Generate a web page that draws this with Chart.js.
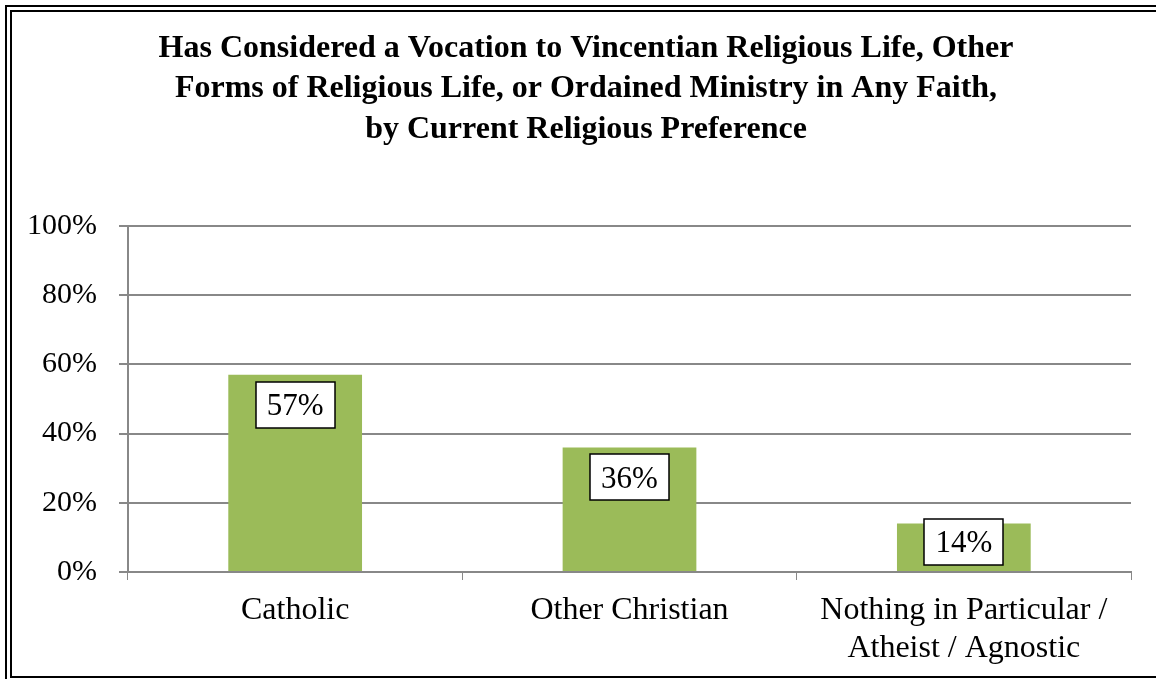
<!DOCTYPE html>
<html>
<head>
<meta charset="utf-8">
<script src="https://cdn.jsdelivr.net/npm/chart.js@4"></script>
<style>
  html, body { margin: 0; padding: 0; background: #fff; overflow: hidden; }
  #wrap { position: relative; width: 1156px; height: 679px; }
  #chart { position: absolute; left: 0; top: 0; }
  .frame { position: absolute; pointer-events: none; border: 2px solid #000; border-right: none; }
  #outer { left: 5px; top: 5px; width: 1200px; height: 700px; }
  #inner { left: 10px; top: 10px; width: 1200px; height: 664px; }
</style>
</head>
<body>
<div id="wrap">
  <canvas id="chart" width="1156" height="679"></canvas>
  <div class="frame" id="outer"></div>
  <div class="frame" id="inner"></div>
</div>
<script>
// chart data
const categories = [
  'Catholic',
  'Other Christian',
  ['Nothing in Particular /', 'Atheist / Agnostic']
];
const percentConsidered = [57, 36, 14];
const yTicks = [0, 20, 40, 60, 80, 100];

const titleLines = [
  'Has Considered a Vocation to Vincentian Religious Life, Other',
  'Forms of Religious Life, or Ordained Ministry in Any Faith,',
  'by Current Religious Preference'
];

const serif = '"Liberation Serif", "Times New Roman", serif';

// boxed value labels inside the top of each bar
const boxLabels = {
  id: 'boxLabels',
  afterDatasetsDraw(chart) {
    const ctx = chart.ctx;
    const meta = chart.getDatasetMeta(0);
    const base = chart.scales.y.getPixelForValue(0);
    ctx.save();
    ctx.font = '31px ' + serif;
    ctx.textAlign = 'center';
    ctx.textBaseline = 'middle';
    meta.data.forEach((bar, i) => {
      const txt = percentConsidered[i] + '%';
      const w = Math.round(ctx.measureText(txt).width + 22);
      const h = 46;
      const cy = Math.min(bar.y + 30, base - 30);
      const x0 = Math.round(bar.x - w / 2);
      const y0 = Math.round(cy - h / 2);
      ctx.fillStyle = '#fff';
      ctx.fillRect(x0, y0, w, h);
      ctx.strokeStyle = '#000';
      ctx.lineWidth = 1.5;
      ctx.strokeRect(x0, y0, w, h);
      ctx.fillStyle = '#000';
      ctx.fillText(txt, bar.x, cy + 2);
    });
    ctx.restore();
  }
};

const ctx = document.getElementById('chart').getContext('2d');
const chart = new Chart(ctx, {
  type: 'bar',
  data: {
    labels: categories,
    datasets: [{
      data: percentConsidered,
      backgroundColor: '#9BBB59',
      borderWidth: 0,
      barPercentage: 0.4,
      categoryPercentage: 1
    }]
  },
  options: {
    responsive: false,
    animation: false,
    layout: { padding: { left: 16, right: 0, top: 0, bottom: 0 } },
    plugins: {
      legend: { display: false },
      tooltip: { enabled: false },
      title: {
        display: true,
        text: titleLines,
        color: '#000',
        font: { family: serif, size: 32, weight: 'bold', lineHeight: 1.27 },
        padding: { top: 28, bottom: 76 }
      }
    },
    scales: {
      x: {
        grid: {
          display: true,
          drawOnChartArea: false,
          offset: true,
          tickLength: 8,
          color: '#888'
        },
        border: { color: '#888', width: 2 },
        ticks: {
          color: '#000',
          font: { family: serif, size: 32, lineHeight: 1.2 },
          padding: 11,
          maxRotation: 0,
          autoSkip: false
        },
        afterFit(scale) { scale.height = 107; }
      },
      y: {
        min: 0,
        max: 100,
        afterBuildTicks(scale) { scale.ticks = yTicks.map(v => ({ value: v })); },
        grid: { color: '#888', lineWidth: 2, tickLength: 9 },
        border: { color: '#888', width: 2 },
        ticks: {
          color: '#000',
          font: { family: serif, size: 30 },
          padding: 22,
          callback: v => v + '%'
        },
        afterFit(scale) { scale.width = 112; }
      },
      yRight: {
        position: 'right',
        display: true,
        grid: { display: false },
        border: { display: false },
        ticks: { display: false },
        afterFit(scale) { scale.width = 25; }
      }
    }
  },
  plugins: [boxLabels]
});
</script>
</body>
</html>
